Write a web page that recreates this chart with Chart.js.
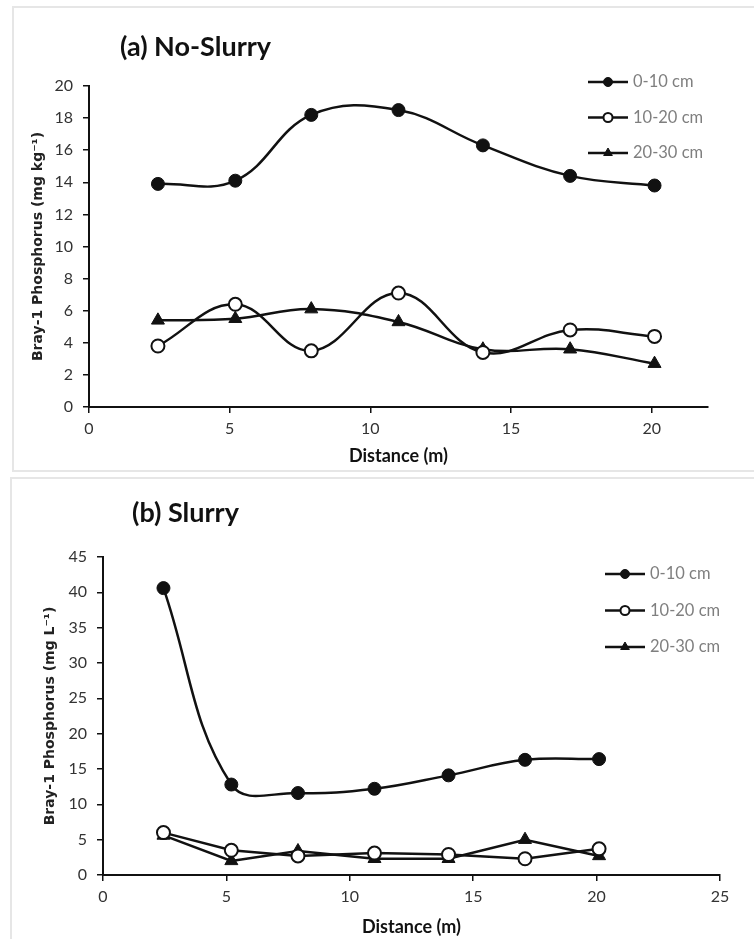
<!DOCTYPE html>
<html>
<head>
<meta charset="utf-8">
<script src="https://cdn.jsdelivr.net/npm/chart.js@4.4.1/dist/chart.umd.min.js"></script>
<style>
  html, body { margin: 0; padding: 0; background: #fff; }
  body { width: 754px; height: 939px; position: relative; overflow: hidden; }
  .panel { position: absolute; border: 2px solid #e6e6e6; background: #fff; }
  #panelA { left: 12px; top: 6px; width: 760px; height: 462px; }
  #panelB { left: 10px; top: 477px; width: 760px; height: 470px; }
  canvas { position: absolute; left: 0; top: 0; }
</style>
</head>
<body>
<div class="panel" id="panelA"><canvas id="chartA" width="740" height="462"></canvas></div>
<div class="panel" id="panelB"><canvas id="chartB" width="742" height="460"></canvas></div>
<script>
// ---- data ----
const depthLabels = ['0-10 cm', '10-20 cm', '20-30 cm'];

// (a) No-Slurry, mg kg-1
const distanceA = [2.45, 5.2, 7.9, 11, 14, 17.1, 20.1];
const noSlurry0to10 = [13.9, 14.1, 18.2, 18.5, 16.3, 14.4, 13.8];
const noSlurry10to20 = [3.8, 6.4, 3.5, 7.1, 3.4, 4.8, 4.4];
const noSlurry20to30 = [5.4, 5.5, 6.1, 5.3, 3.6, 3.6, 2.7];

// (b) Slurry, mg L-1
const distanceB = [2.45, 5.2, 7.9, 11, 14, 17.1, 20.1];
const slurry0to10 = [40.6, 12.8, 11.6, 12.2, 14.1, 16.3, 16.4];
const slurry10to20 = [6.0, 3.5, 2.7, 3.1, 2.9, 2.3, 3.7];
const slurry20to30 = [5.6, 2.0, 3.4, 2.3, 2.3, 5.0, 2.7];

// axis ranges
const xRangeA = [0, 22];
const yRangeA = [0, 20];
const xRangeB = [0, 25];
const yRangeB = [0, 45];

const INK = '#111';
const TICK_FONT = { family: 'Lato', size: 16 };

function pairs(xs, ys) {
  return xs.map((x, i) => ({ x: x, y: ys[i] }));
}

function series(label, xs, ys, style, tension) {
  const base = {
    label: label,
    data: pairs(xs, ys),
    borderColor: INK,
    borderWidth: 2.5,
    tension: tension,
    fill: false,
    pointBorderColor: INK,
  };
  if (style === 'filled') {
    return Object.assign(base, { pointStyle: 'circle', pointRadius: 6.5, pointBackgroundColor: INK, pointBorderWidth: 1 });
  }
  if (style === 'open') {
    return Object.assign(base, { pointStyle: 'circle', pointRadius: 6.5, pointBackgroundColor: '#fff', pointBorderWidth: 2 });
  }
  return Object.assign(base, { pointStyle: 'triangle', pointRadius: 7.5, pointBackgroundColor: INK, pointBorderWidth: 1 });
}

// title + excel-like legend drawn on the canvas
const panelText = {
  id: 'panelText',
  afterDraw(chart, args, opts) {
    const ctx = chart.ctx;
    ctx.save();
    ctx.fillStyle = INK;
    ctx.font = 'bold 27px Lato';
    ctx.textBaseline = 'middle';
    ctx.textAlign = 'left';
    ctx.fillText(opts.title, opts.titleX, opts.titleY);

    chart.data.datasets.forEach((ds, i) => {
      const y = opts.legendY + i * opts.legendGap;
      ctx.strokeStyle = INK;
      ctx.lineWidth = 2.5;
      ctx.beginPath();
      ctx.moveTo(opts.legendX, y);
      ctx.lineTo(opts.legendX + 40, y);
      ctx.stroke();
      ctx.fillStyle = ds.pointBackgroundColor;
      ctx.strokeStyle = INK;
      ctx.lineWidth = ds.pointBorderWidth;
      Chart.helpers.drawPoint(ctx, { pointStyle: ds.pointStyle, radius: ds.pointStyle === 'triangle' ? 5 : 4.5, borderWidth: ds.pointBorderWidth }, opts.legendX + 20, y);
      ctx.fillStyle = '#7f7f7f';
      ctx.font = '16.5px Lato';
      ctx.fillText(ds.label, opts.legendX + 45, y);
    });
    ctx.restore();
  }
};

function axisOptions(xRange, yRange, yTitle, yWidth, xHeight, yTitlePad, xTitlePad, yStep) {
  return {
    x: {
      type: 'linear',
      min: xRange[0],
      max: xRange[1],
      afterFit: s => { s.height = xHeight; },
      ticks: { stepSize: 5, includeBounds: false, color: '#333', font: TICK_FONT, padding: 6, maxRotation: 0 },
      grid: { drawOnChartArea: false, drawTicks: true, tickLength: 6, color: INK, lineWidth: 1.5 },
      border: { color: INK, width: 2 },
      title: { display: true, text: 'Distance (m)', color: INK, font: { family: 'Lato', size: 18, weight: 'bold' }, padding: { top: 0, bottom: xTitlePad } },
    },
    y: {
      min: yRange[0],
      max: yRange[1],
      afterFit: s => { s.width = yWidth; },
      ticks: { stepSize: yStep, color: '#333', font: TICK_FONT, padding: 10 },
      grid: { drawOnChartArea: false, drawTicks: true, tickLength: 6, color: INK, lineWidth: 1.5 },
      border: { color: INK, width: 2 },
      title: { display: true, text: yTitle, color: '#222', font: { family: 'DejaVu Sans', size: 14, weight: 'bold' }, padding: { top: yTitlePad, bottom: 0 } },
    },
  };
}

// (a) No-Slurry
const chartA = new Chart(document.getElementById('chartA'), {
  type: 'line',
  data: {
    datasets: [
      series(depthLabels[0], distanceA, noSlurry0to10, 'filled', 0.4),
      series(depthLabels[1], distanceA, noSlurry10to20, 'open', 0.4),
      series(depthLabels[2], distanceA, noSlurry20to30, 'triangle', 0.4),
    ],
  },
  options: {
    responsive: false,
    animation: false,
    layout: { padding: { top: 78, right: 46, left: 0, bottom: 0 } },
    plugins: {
      legend: { display: false },
      tooltip: { enabled: false },
      panelText: { title: '(a) No-Slurry', titleX: 106, titleY: 39, legendX: 574, legendY: 74, legendGap: 35.5 },
    },
    scales: axisOptions(xRangeA, yRangeA, 'Bray-1 Phosphorus (mg kg\u207B\u00B9)', 75, 63, 16, 3, 2),
  },
  plugins: [panelText],
});

// (b) Slurry
const chartB = new Chart(document.getElementById('chartB'), {
  type: 'line',
  data: {
    datasets: [
      series(depthLabels[0], distanceB, slurry0to10, 'filled', 0.4),
      series(depthLabels[1], distanceB, slurry10to20, 'open', 0),
      series(depthLabels[2], distanceB, slurry20to30, 'triangle', 0),
    ],
  },
  options: {
    responsive: false,
    animation: false,
    layout: { padding: { top: 78, right: 34, left: 0, bottom: 0 } },
    plugins: {
      legend: { display: false },
      tooltip: { enabled: false },
      panelText: { title: '(b) Slurry', titleX: 120, titleY: 34, legendX: 593, legendY: 95, legendGap: 36.5 },
    },
    scales: axisOptions(xRangeB, yRangeB, 'Bray-1 Phosphorus (mg L\u207B\u00B9)', 91, 64, 30, 1, 5),
  },
  plugins: [panelText],
});
</script>
</body>
</html>
